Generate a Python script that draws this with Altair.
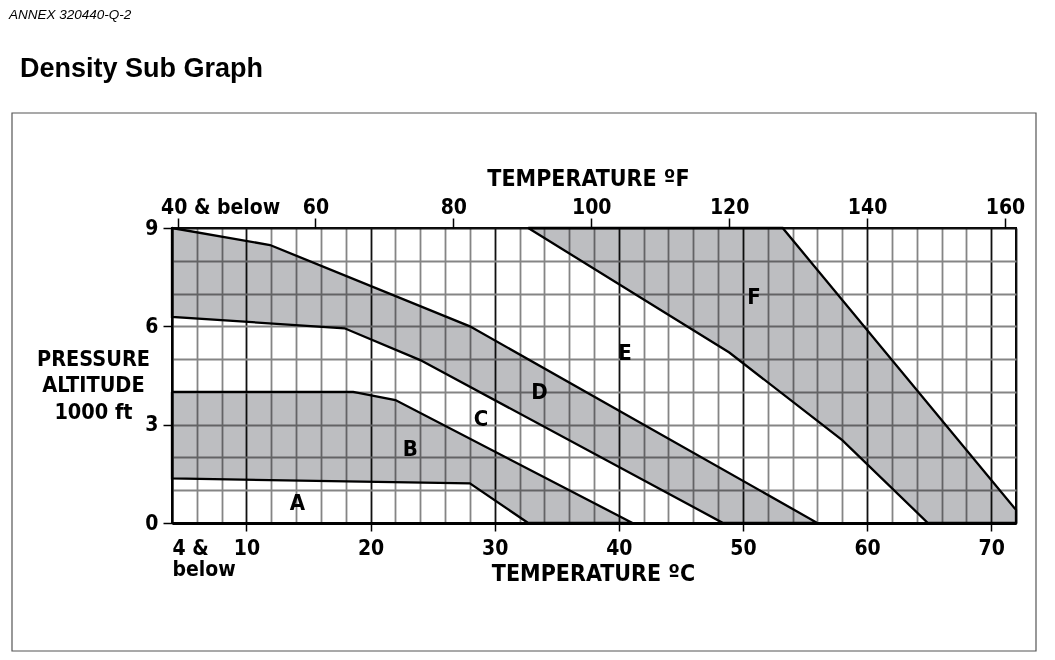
import altair as alt
import pandas as pd

# ---- data (temperature degC, pressure altitude 1000 ft) ----
band_B_T = [4, 18.6, 22.0, 41.1, 32.7, 28.0, 4, 4]
band_B_alt = [4.0, 4.0, 3.75, 0, 0, 1.21, 1.36, 4.0]

band_D_T = [4, 11.9, 28.0, 56.0, 48.4, 24.0, 17.9, 4, 4]
band_D_alt = [9, 8.48, 6.0, 0, 0, 4.97, 5.94, 6.29, 9]

band_F_T = [32.7, 53.2, 72, 72, 64.9, 58.0, 48.9, 32.7]
band_F_alt = [9, 9, 0.4, 0, 0, 2.53, 5.2, 9]

zone_letters = ["A", "B", "C", "D", "E", "F"]
zone_T = [14.1, 23.2, 28.9, 33.6, 40.5, 50.9]
zone_alt = [0.6, 2.26, 3.17, 4.0, 5.2, 6.9]

c_grid = list(range(4, 73, 2))
alt_grid = list(range(0, 10))
f_ticks = [40, 60, 80, 100, 120, 140, 160]

c_domain = [4, 72]
f_domain = [4 * 9 / 5 + 32, 72 * 9 / 5 + 32]
alt_domain = [0, 9]

NARROW = "Liberation Sans Narrow, DejaVu Sans Condensed, Roboto, sans-serif"
SANS = "Liberation Sans, Arial, sans-serif"

rows = []
for name, Ts, As in [("B", band_B_T, band_B_alt), ("D", band_D_T, band_D_alt), ("F", band_F_T, band_F_alt)]:
    for i, (t, a) in enumerate(zip(Ts, As)):
        rows.append({"band": name, "i": i, "T": t, "alt": a})
poly_df = pd.DataFrame(rows)
letters_df = pd.DataFrame({"L": zone_letters, "T": zone_T, "alt": zone_alt})
f_df = pd.DataFrame({"F": f_ticks})

x_axis = alt.Axis(
    orient="bottom",
    values=c_grid,
    grid=True,
    gridColor={"condition": {"test": "datum.value % 10 === 0 || datum.value === 4 || datum.value === 72", "value": "#111111"}, "value": "#858585"},
    gridWidth=1.8,
    ticks=True,
    tickSize=8,
    tickWidth=1.5,
    tickColor={"condition": {"test": "datum.value % 10 === 0", "value": "black"}, "value": "transparent"},
    labelExpr="datum.value === 4 ? ['4 &', 'below'] : (datum.value % 10 === 0 ? datum.label : '')",
    labelAlign={"condition": {"test": "datum.value === 4", "value": "left"}, "value": "center"},
    labelFlush=False,
    labelOverlap=False,
    labelPadding=6,
    labelFont=NARROW,
    labelFontSize=21,
    labelFontWeight="bold",
    labelColor="black",
    labelLineHeight=21,
    domainColor="black",
    domainWidth=3,
    title="TEMPERATURE  ºC",
    titleFont=NARROW,
    titleFontSize=23,
    titleFontWeight="bold",
    titleColor="black",
    titleX=421,
    titleY=57,
    titleAlign="center",
    titleBaseline="alphabetic",
)

y_axis = alt.Axis(
    values=alt_grid,
    grid=True,
    gridColor={"condition": {"test": "datum.value === 0 || datum.value === 9", "value": "#111111"}, "value": "#858585"},
    gridWidth=1.8,
    ticks=True,
    tickSize=9,
    tickWidth=1.5,
    tickColor={"condition": {"test": "datum.value % 3 === 0", "value": "black"}, "value": "transparent"},
    labelExpr="datum.value % 3 === 0 ? datum.label : ''",
    labelFlush=False,
    labelOverlap=False,
    labelPadding=5,
    labelFont=NARROW,
    labelFontSize=21,
    labelFontWeight="bold",
    labelColor="black",
    domainColor="black",
    domainWidth=2,
    title=["PRESSURE", "ALTITUDE", "1000 ft"],
    titleFont=NARROW,
    titleFontSize=21.5,
    titleFontWeight="bold",
    titleColor="black",
    titleAngle=0,
    titleX=-79,
    titleY=137,
    titleAlign="center",
    titleBaseline="alphabetic",
    titleLineHeight=26.5,
)

top_axis = alt.Axis(
    orient="top",
    values=f_ticks,
    grid=False,
    domain=False,
    ticks=True,
    tickSize=10,
    tickWidth=1.5,
    tickColor="black",
    labelExpr="datum.value === 40 ? '40 & below' : datum.label",
    labelAlign={"condition": {"test": "datum.value === 40", "value": "left"}, "value": "center"},
    labelOffset={"condition": {"test": "datum.value === 40", "value": -17}, "value": 0},
    labelFlush=False,
    labelOverlap=False,
    labelPadding=1,
    labelFont=NARROW,
    labelFontSize=21,
    labelFontWeight="bold",
    labelColor="black",
    title="TEMPERATURE  ºF",
    titleFont=NARROW,
    titleFontSize=23,
    titleFontWeight="bold",
    titleColor="black",
    titleX=416,
    titleY=-43,
    titleAlign="center",
    titleBaseline="alphabetic",
)

xs = alt.Scale(domain=c_domain, nice=False, zero=False)
ys = alt.Scale(domain=alt_domain, nice=False, zero=False)

bands = alt.Chart(poly_df).mark_line(
    fill="#bdbec1", stroke="black", strokeWidth=2.3, blend="multiply", strokeJoin="miter"
).encode(
    x=alt.X("T:Q", scale=xs, axis=x_axis),
    y=alt.Y("alt:Q", scale=ys, axis=y_axis),
    detail="band:N",
    order="i:Q",
)

letters = alt.Chart(letters_df).mark_text(
    font=NARROW, fontSize=22, fontWeight="bold", color="black", align="center", baseline="middle"
).encode(
    x=alt.X("T:Q", scale=xs, axis=x_axis),
    y=alt.Y("alt:Q", scale=ys, axis=y_axis),
    text="L:N",
)

title_df = pd.DataFrame({"t": ["Density Sub Graph"]})
title = alt.Chart(title_df).mark_text(
    font=SANS, fontSize=27, fontWeight="bold", color="black", align="left", baseline="alphabetic"
).encode(x=alt.value(-152), y=alt.value(-151), text="t:N")

annex_df = pd.DataFrame({"t": ["ANNEX 320440-Q-2"]})
annex = alt.Chart(annex_df).mark_text(
    font=SANS, fontSize=13.5, fontStyle="italic", color="black", align="left", baseline="alphabetic"
).encode(x=alt.value(-163), y=alt.value(-209), text="t:N")

frame_df = pd.DataFrame({"k": [1]})
frame = alt.Chart(frame_df).mark_rect(filled=False, stroke="#555555", strokeWidth=1.2).encode(
    x=alt.value(-160), x2=alt.value(864), y=alt.value(-115), y2=alt.value(423)
)

main = alt.layer(bands, letters, title, annex, frame)

topl = alt.Chart(f_df).mark_point(opacity=0).encode(
    x=alt.X("F:Q", scale=alt.Scale(domain=f_domain, nice=False, zero=False), axis=top_axis),
)

chart = alt.layer(main, topl).resolve_scale(x="independent").properties(
    width=844,
    height=295,
    padding={"left": 164, "top": 220, "right": 31, "bottom": 129},
    autosize=alt.AutoSizeParams(type="none"),
).configure_view(stroke="black", strokeWidth=2)

chart.save("out.html", embed_options={"renderer": "svg", "actions": False})
